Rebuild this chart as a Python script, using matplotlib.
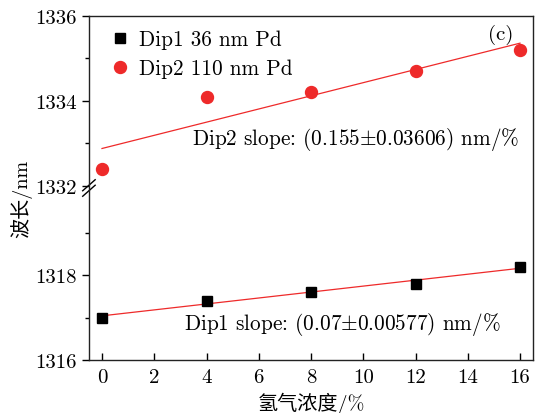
import numpy as np
import matplotlib
matplotlib.use("Agg")
import matplotlib.pyplot as plt

# --- data ---
conc = [0, 4, 8, 12, 16]                                  # H2 concentration (%)
dip1 = [1317.0, 1317.4, 1317.6, 1317.8, 1318.2]           # Dip1 36 nm Pd
dip2 = [1332.4, 1334.1, 1334.2, 1334.7, 1335.2]           # Dip2 110 nm Pd
x_ticks = [0, 2, 4, 6, 8, 10, 12, 14, 16]
y_ticks_low = [1316, 1318]
y_ticks_high = [1332, 1334, 1336]
y_minor_low = [1317, 1319]
y_minor_high = [1333, 1335]

SHIFT = 11.9   # broken axis: upper block (1332-1336) moved down onto 1320


def warp(v):
    v = np.asarray(v, dtype=float)
    return np.where(v > 1325, v - SHIFT, v)


plt.rcParams.update({
    'font.family': ['cmr10', 'Noto Sans CJK SC', 'DejaVu Serif'],
    'mathtext.fontset': 'cm',
    'axes.formatter.use_mathtext': True,
    'font.size': 15,
})

fig = plt.figure(figsize=(5.39, 4.14), dpi=100)
ax = fig.add_axes([0.165, 0.128, 0.824, 0.831])

RED = '#ee2a2a'

# fitted lines
x_fit = np.array([0, 16])
p1 = np.polyfit(conc, dip1, 1)
p2 = np.polyfit(conc, dip2, 1)
ax.plot(x_fit, warp(np.polyval(p1, x_fit)), color=RED, lw=0.9, zorder=2)
ax.plot(x_fit, warp(np.polyval(p2, x_fit)), color=RED, lw=0.9, zorder=2)

ax.plot(conc, warp(dip1), 's', color='black', ms=7.8, ls='none',
        label='Dip1 36 nm Pd', zorder=3)
ax.plot(conc, warp(dip2), 'o', color=RED, ms=8.6, ls='none',
        label='Dip2 110 nm Pd', zorder=3)

ax.set_xlim(-0.5, 16.5)
ax.set_ylim(1316, 1336 - SHIFT)

ax.set_xticks(x_ticks)
ax.set_xticklabels([str(t) for t in x_ticks])
maj = y_ticks_low + y_ticks_high
ax.set_yticks(warp(maj))
ax.set_yticklabels([str(t) for t in maj])
ax.set_yticks(warp(y_minor_low + y_minor_high), minor=True)

ax.tick_params(axis='x', direction='in', length=5, width=1, top=False, pad=6,
               labelsize=15)
ax.tick_params(axis='y', direction='out', length=5, width=1, right=False,
               labelsize=15)
ax.tick_params(axis='y', which='minor', direction='out', length=3, width=1)
for s in ax.spines.values():
    s.set_linewidth(1.0)
    s.set_color('#222222')

# break marks on left spine
yb = (1320.05 - 1316) / (1336 - SHIFT - 1316)
for dy in (-0.008, 0.008):
    ax.plot([-0.014, 0.014], [yb + dy - 0.016, yb + dy + 0.016],
            transform=ax.transAxes, color='black', lw=1.0, clip_on=False)

ax.set_xlabel('氢气浓度/%', fontsize=14.5, labelpad=4)
ax.set_ylabel('波长/nm', fontsize=14.5)
ax.yaxis.set_label_coords(-0.128, 0.47)

ax.text(0.926, 0.948, '(c)', transform=ax.transAxes, ha='center', va='center',
        fontsize=15)
ax.text(0.232, 0.645, r'Dip2 slope: (0.155$\pm$0.03606) nm/%',
        transform=ax.transAxes, ha='left', va='center', fontsize=15.3)
ax.text(0.214, 0.105, r'Dip1 slope: (0.07$\pm$0.00577) nm/%',
        transform=ax.transAxes, ha='left', va='center', fontsize=15.3)

ax.legend(loc='upper left', frameon=False, handletextpad=0.1,
          labelspacing=0.45, borderaxespad=0.25, handlelength=1.6,
          fontsize=15.3)

fig.savefig('out.png', dpi=100)
